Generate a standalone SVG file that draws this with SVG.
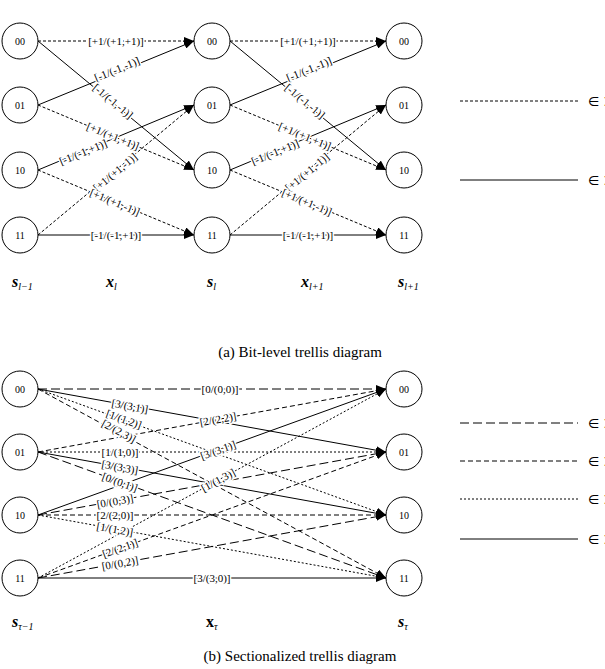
<svg xmlns="http://www.w3.org/2000/svg" width="605" height="669" viewBox="0 0 605 669">
<style>
.n circle{fill:#fff;stroke:#000;stroke-width:1}
.n text{font-family:"Liberation Serif",serif;font-size:10px;text-anchor:middle}
.e line{stroke:#000;stroke-width:1;fill:none}
.ar{marker-end:url(#ah)}
.d{stroke-dasharray:3,2}
.ld{stroke-dasharray:9,4}
.md{stroke-dasharray:5,3}
.sd{stroke-dasharray:2,2}
.lb{font-family:"Liberation Serif",serif;font-size:11px;text-anchor:middle;dominant-baseline:central;paint-order:stroke;stroke:#fff;stroke-width:3px;fill:#000}
.ax{font-family:"Liberation Serif",serif;font-size:16px;font-style:italic;font-weight:bold}
.sub{font-size:10px;font-weight:normal}
.cap{font-family:"Liberation Serif",serif;font-size:15px;text-anchor:middle}
.lg{font-family:"DejaVu Sans",sans-serif;font-size:13px}
</style>
<defs><marker id="ah" markerWidth="10" markerHeight="8" refX="10" refY="4" orient="auto" markerUnits="userSpaceOnUse"><path d="M0,0L10,4L0,8z" fill="#000"/></marker></defs>
<g id="connectors" class="e">
<line class="d ar" x1="38" y1="41" x2="194" y2="41"/>
<line class="ar" x1="38" y1="105" x2="194" y2="41"/>
<line class="ar" x1="38" y1="41" x2="194" y2="170"/>
<line class="d ar" x1="38" y1="105" x2="194" y2="170"/>
<line class="ar" x1="38" y1="170" x2="194" y2="105"/>
<line class="d ar" x1="38" y1="235" x2="194" y2="105"/>
<line class="d ar" x1="38" y1="170" x2="194" y2="235"/>
<line class="ar" x1="38" y1="235" x2="194" y2="235"/>
<line class="d ar" x1="230" y1="41" x2="386" y2="41"/>
<line class="ar" x1="230" y1="105" x2="386" y2="41"/>
<line class="ar" x1="230" y1="41" x2="386" y2="170"/>
<line class="d ar" x1="230" y1="105" x2="386" y2="170"/>
<line class="ar" x1="230" y1="170" x2="386" y2="105"/>
<line class="d ar" x1="230" y1="235" x2="386" y2="105"/>
<line class="d ar" x1="230" y1="170" x2="386" y2="235"/>
<line class="ar" x1="230" y1="235" x2="386" y2="235"/>
<line class="ld ar" x1="38" y1="389" x2="386" y2="389"/>
<line class="ar" x1="38" y1="389" x2="386" y2="452"/>
<line class="sd ar" x1="38" y1="389" x2="386" y2="515"/>
<line class="md ar" x1="38" y1="389" x2="386" y2="578"/>
<line class="md ar" x1="38" y1="452" x2="386" y2="389"/>
<line class="sd ar" x1="38" y1="452" x2="386" y2="452"/>
<line class="ar" x1="38" y1="452" x2="386" y2="515"/>
<line class="ld ar" x1="38" y1="452" x2="386" y2="578"/>
<line class="ar" x1="38" y1="515" x2="386" y2="389"/>
<line class="ld ar" x1="38" y1="515" x2="386" y2="452"/>
<line class="md ar" x1="38" y1="515" x2="386" y2="515"/>
<line class="sd ar" x1="38" y1="515" x2="386" y2="578"/>
<line class="sd ar" x1="38" y1="578" x2="386" y2="389"/>
<line class="md ar" x1="38" y1="578" x2="386" y2="452"/>
<line class="ld ar" x1="38" y1="578" x2="386" y2="515"/>
<line class="ar" x1="38" y1="578" x2="386" y2="578"/>
<line class="d" x1="460" y1="101" x2="578" y2="101"/>
<line x1="460" y1="180" x2="578" y2="180"/>
<line class="ld" x1="460" y1="423" x2="578" y2="423"/>
<line class="md" x1="460" y1="461" x2="578" y2="461"/>
<line class="sd" x1="460" y1="499" x2="578" y2="499"/>
<line x1="460" y1="539" x2="578" y2="539"/>
</g>
<g id="labels">
<text class="lb" x="116" y="41">[+1/(+1,+1)]</text>
<text class="lb" transform="translate(117,69) rotate(-22.3)">[-1/(-1,-1)]</text>
<text class="lb" transform="translate(113,101) rotate(39.4)">[-1/(-1,-1)]</text>
<text class="lb" transform="translate(113,136) rotate(22.3)">[+1/(+1,+1)]</text>
<text class="lb" transform="translate(83,152) rotate(-22.3)">[-1/(-1,+1)]</text>
<text class="lb" transform="translate(115,172) rotate(-39.6)">[+1/(+1,-1)]</text>
<text class="lb" transform="translate(115,202) rotate(22.6)">[+1/(+1,-1)]</text>
<text class="lb" x="116" y="235">[-1/(-1,+1)]</text>
<text class="lb" x="308" y="41">[+1/(+1,+1)]</text>
<text class="lb" transform="translate(309,69) rotate(-22.3)">[-1/(-1,-1)]</text>
<text class="lb" transform="translate(305,101) rotate(39.4)">[-1/(-1,-1)]</text>
<text class="lb" transform="translate(305,136) rotate(22.3)">[+1/(+1,+1)]</text>
<text class="lb" transform="translate(275,152) rotate(-22.3)">[-1/(-1,+1)]</text>
<text class="lb" transform="translate(307,172) rotate(-39.6)">[+1/(+1,-1)]</text>
<text class="lb" transform="translate(307,202) rotate(22.6)">[+1/(+1,-1)]</text>
<text class="lb" x="308" y="235">[-1/(-1,+1)]</text>
<text class="lb" x="220" y="389">[0/(0,0)]</text>
<text class="lb" transform="translate(130,406) rotate(10.2)">[3/(3,1)]</text>
<text class="lb" transform="translate(124,419) rotate(19.9)">[1/(1,2)]</text>
<text class="lb" transform="translate(119,431) rotate(28.5)">[2/(2,3)]</text>
<text class="lb" transform="translate(218,419) rotate(-10.2)">[2/(2,2)]</text>
<text class="lb" x="120" y="452">[1/(1,0)]</text>
<text class="lb" transform="translate(120,467) rotate(10.2)">[3/(3,3)]</text>
<text class="lb" transform="translate(120,482) rotate(19.9)">[0/(0,1)]</text>
<text class="lb" transform="translate(218,450) rotate(-19.9)">[3/(3,1)]</text>
<text class="lb" transform="translate(115,501) rotate(-10.2)">[0/(0,3)]</text>
<text class="lb" x="115" y="515">[2/(2,0)]</text>
<text class="lb" transform="translate(115,529) rotate(10.2)">[1/(1,2)]</text>
<text class="lb" transform="translate(218,480) rotate(-28.5)">[1/(1,3)]</text>
<text class="lb" transform="translate(120,548) rotate(-19.9)">[2/(2,1)]</text>
<text class="lb" transform="translate(120,563) rotate(-10.2)">[0/(0,2)]</text>
<text class="lb" x="212" y="578">[3/(3,0)]</text>
</g>
<g id="n00a" class="n"><circle cx="20" cy="41" r="18"/><text x="20" y="45">00</text></g>
<g id="n01a" class="n"><circle cx="20" cy="105" r="18"/><text x="20" y="109">01</text></g>
<g id="n10a" class="n"><circle cx="20" cy="170" r="18"/><text x="20" y="174">10</text></g>
<g id="n11a" class="n"><circle cx="20" cy="235" r="18"/><text x="20" y="239">11</text></g>
<g id="n00b" class="n"><circle cx="212" cy="41" r="18"/><text x="212" y="45">00</text></g>
<g id="n01b" class="n"><circle cx="212" cy="105" r="18"/><text x="212" y="109">01</text></g>
<g id="n10b" class="n"><circle cx="212" cy="170" r="18"/><text x="212" y="174">10</text></g>
<g id="n11b" class="n"><circle cx="212" cy="235" r="18"/><text x="212" y="239">11</text></g>
<g id="n00c" class="n"><circle cx="404" cy="41" r="18"/><text x="404" y="45">00</text></g>
<g id="n01c" class="n"><circle cx="404" cy="105" r="18"/><text x="404" y="109">01</text></g>
<g id="n10c" class="n"><circle cx="404" cy="170" r="18"/><text x="404" y="174">10</text></g>
<g id="n11c" class="n"><circle cx="404" cy="235" r="18"/><text x="404" y="239">11</text></g>
<g id="n00d" class="n"><circle cx="20" cy="389" r="18"/><text x="20" y="393">00</text></g>
<g id="n01d" class="n"><circle cx="20" cy="452" r="18"/><text x="20" y="456">01</text></g>
<g id="n10d" class="n"><circle cx="20" cy="515" r="18"/><text x="20" y="519">10</text></g>
<g id="n11d" class="n"><circle cx="20" cy="578" r="18"/><text x="20" y="582">11</text></g>
<g id="n00e" class="n"><circle cx="404" cy="389" r="18"/><text x="404" y="393">00</text></g>
<g id="n01e" class="n"><circle cx="404" cy="452" r="18"/><text x="404" y="456">01</text></g>
<g id="n10e" class="n"><circle cx="404" cy="515" r="18"/><text x="404" y="519">10</text></g>
<g id="n11e" class="n"><circle cx="404" cy="578" r="18"/><text x="404" y="582">11</text></g>
<g id="axis">
<text class="ax" x="12" y="287">s<tspan class="sub" dy="3">l−1</tspan></text>
<text class="ax" x="106" y="287">x<tspan class="sub" dy="3">l</tspan></text>
<text class="ax" x="207" y="287">s<tspan class="sub" dy="3">l</tspan></text>
<text class="ax" x="301" y="287">x<tspan class="sub" dy="3">l+1</tspan></text>
<text class="ax" x="398" y="287">s<tspan class="sub" dy="3">l+1</tspan></text>
<text class="cap" x="300" y="357">(a)  Bit-level trellis diagram</text>
<text class="ax" x="12" y="627">s<tspan class="sub" dy="3">τ−1</tspan></text>
<text class="ax" x="206" y="627" style="font-style:normal">x<tspan class="sub" dy="3" style="font-style:italic">τ</tspan></text>
<text class="ax" x="398" y="627">s<tspan class="sub" dy="3">τ</tspan></text>
<text class="cap" x="300" y="661">(b) Sectionalized trellis diagram</text>
<text class="lg" x="588" y="106">∈ Σ</text>
<text class="lg" x="588" y="185">∈ Σ</text>
<text class="lg" x="588" y="428">∈ Σ</text>
<text class="lg" x="588" y="466">∈ Σ</text>
<text class="lg" x="588" y="504">∈ Σ</text>
<text class="lg" x="588" y="544">∈ Σ</text>
</g>
</svg>
